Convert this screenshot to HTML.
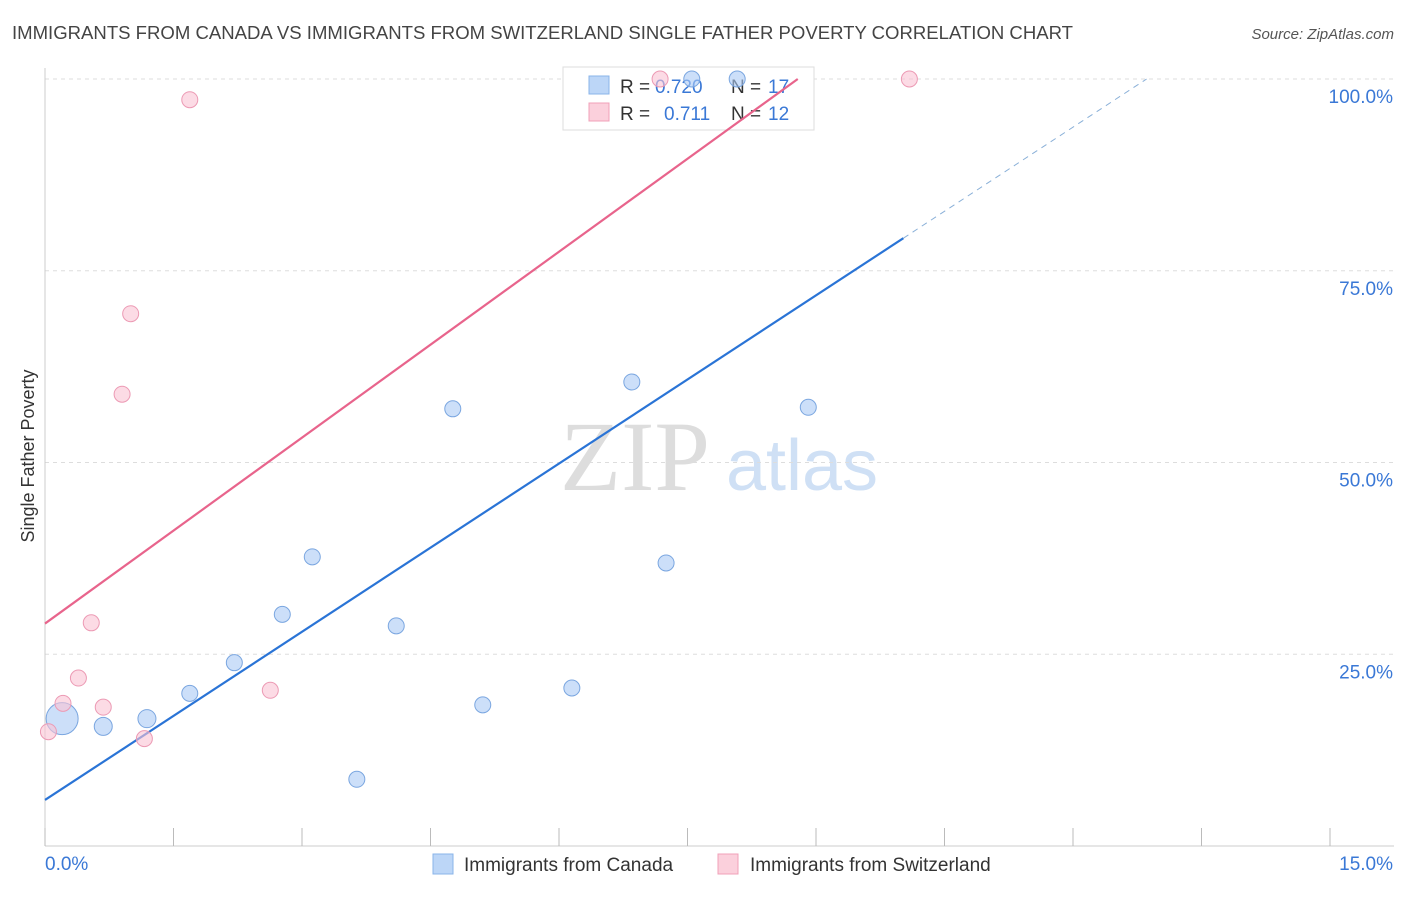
<!DOCTYPE html>
<html><head><meta charset="utf-8"><style>
body{margin:0;background:#fff;font-family:"Liberation Sans",sans-serif;}
</style></head><body>
<svg id="chart" width="1406" height="892" viewBox="0 0 1406 892" xmlns="http://www.w3.org/2000/svg" font-family="Liberation Sans, sans-serif">
<text x="12" y="39" font-size="18" fill="#444" textLength="1061" lengthAdjust="spacingAndGlyphs">IMMIGRANTS FROM CANADA VS IMMIGRANTS FROM SWITZERLAND SINGLE FATHER POVERTY CORRELATION CHART</text>
<text x="1394" y="39" font-size="15" fill="#555" text-anchor="end" font-style="italic">Source: ZipAtlas.com</text>
<text transform="translate(34,456) rotate(-90)" font-size="18" fill="#333" text-anchor="middle">Single Father Poverty</text>
<g id="watermark">
<text x="635" y="490" font-size="100" fill="#ddd" font-family="Liberation Serif, serif" text-anchor="middle">ZIP</text>
<text x="802" y="490" font-size="72" fill="#cfe0f5" text-anchor="middle">atlas</text>
</g>
<g id="grid"></g><g id="axes"></g><g id="lines"></g>
<g>
<rect x="563" y="67" width="251" height="63" fill="#fff" stroke="#ddd"/>
<rect x="589" y="76" width="20" height="18" fill="#bcd6f7" stroke="#8ab4ea"/>
<text x="620" y="93" font-size="19" fill="#333">R =</text>
<text x="655" y="93" font-size="19" fill="#3a78d6">0.720</text>
<text x="731" y="93" font-size="19" fill="#333">N =</text>
<text x="768" y="93" font-size="19" fill="#3a78d6">17</text>
<rect x="589" y="103" width="20" height="18" fill="#fbd0dc" stroke="#f0a0b8"/>
<text x="620" y="120" font-size="19" fill="#333">R =</text>
<text x="664" y="120" font-size="19" fill="#3a78d6">0.711</text>
<text x="731" y="120" font-size="19" fill="#333">N =</text>
<text x="768" y="120" font-size="19" fill="#3a78d6">12</text>
</g>
<g id="points"></g>
<g>
<rect x="433" y="854" width="20" height="20" fill="#bcd6f7" stroke="#8ab4ea"/>
<text x="464" y="871" font-size="19" fill="#333">Immigrants from Canada</text>
<rect x="718" y="854" width="20" height="20" fill="#fbd0dc" stroke="#f0a0b8"/>
<text x="750" y="871" font-size="19" fill="#333">Immigrants from Switzerland</text>
</g>
</svg>
<script>
const xTicks=[0,1.5,3,4.5,6,7.5,9,10.5,12,13.5,15];
const yTicks=[25,50,75,100];
const yTickLabels=["25.0%","50.0%","75.0%","100.0%"];
const canadaX=[0.20,0.68,1.19,1.69,2.21,2.77,3.12,3.64,4.10,4.76,5.11,6.15,6.85,7.25,8.91,7.55,8.08];
const canadaY=[16.6,15.6,16.6,19.9,23.9,30.2,37.7,8.7,28.7,57.0,18.4,20.6,60.5,36.9,57.2,100,100];
const canadaR=[16,9,9,8,8,8,8,8,8,8,8,8,8,8,8,8,8];
const swissX=[0.04,0.21,0.39,0.54,0.68,0.90,1.00,1.16,1.69,2.63,7.18,10.09];
const swissY=[14.9,18.6,21.9,29.1,18.1,58.9,69.4,14.0,97.3,20.3,100,100];
const canadaLine=[6.0,7.31];
const swissLine=[29.0,8.08];
const NS="http://www.w3.org/2000/svg";
const X=v=>45+v/15*1285, Y=v=>846-v/100*767;
function mk(t,a,p){const e=document.createElementNS(NS,t);for(const k in a)e.setAttribute(k,a[k]);document.getElementById(p).appendChild(e);return e;}
yTicks.forEach((t,i)=>{
 const g=mk('line',{x1:45,x2:1394,y1:Y(t),y2:Y(t),stroke:'#ddd','stroke-dasharray':'4,4'},'grid');
 
 
 const l=mk('text',{x:1393,y:Y(t)+24,'font-size':19,fill:'#3a78d6','text-anchor':'end'},'axes');l.textContent=yTickLabels[i];
 
 
});
const ax=mk('line',{x1:45,x2:45,y1:68,y2:846,stroke:'#ccc'},'axes');


const bx=mk('line',{x1:45,x2:1394,y1:846,y2:846,stroke:'#ccc'},'axes');


xTicks.forEach(t=>{const k=mk('line',{x1:X(t),x2:X(t),y1:828,y2:846,stroke:'#bbb'},'axes');
 
 });
const x0=mk('text',{x:45,y:870,'font-size':19,fill:'#3a78d6'},'axes');x0.textContent=xTicks[0].toFixed(1)+'%';


const x1=mk('text',{x:1393,y:870,'font-size':19,fill:'#3a78d6','text-anchor':'end'},'axes');x1.textContent=xTicks[xTicks.length-1].toFixed(1)+'%';


const cEnd=10.02, cX100=(100-canadaLine[0])/canadaLine[1];
const cl=mk('line',{x1:X(0),y1:Y(canadaLine[0]),x2:X(cEnd),y2:Y(canadaLine[0]+canadaLine[1]*cEnd),stroke:'#2a74d6','stroke-width':2.2},'lines');


const cd=mk('line',{x1:X(cEnd),y1:Y(canadaLine[0]+canadaLine[1]*cEnd),x2:X(cX100),y2:Y(100),stroke:'#8ab0d8','stroke-width':1,'stroke-dasharray':'6,5'},'lines');


const sX100=(100-swissLine[0])/swissLine[1];
const sl=mk('line',{x1:X(0),y1:Y(swissLine[0]),x2:X(sX100),y2:Y(100),stroke:'#e8648c','stroke-width':2.2},'points');


canadaX.forEach((v,i)=>{const c=mk('circle',{cx:X(v),cy:Y(canadaY[i]),r:canadaR[i],fill:'rgba(170,202,245,0.6)',stroke:'#7aa6e0','stroke-width':1},'points');
 
 });
swissX.forEach((v,i)=>{const c=mk('circle',{cx:X(v),cy:Y(swissY[i]),r:8,fill:'rgba(250,195,212,0.6)',stroke:'#ec9ab4','stroke-width':1},'points');
 
 });
</script>
</body></html>
